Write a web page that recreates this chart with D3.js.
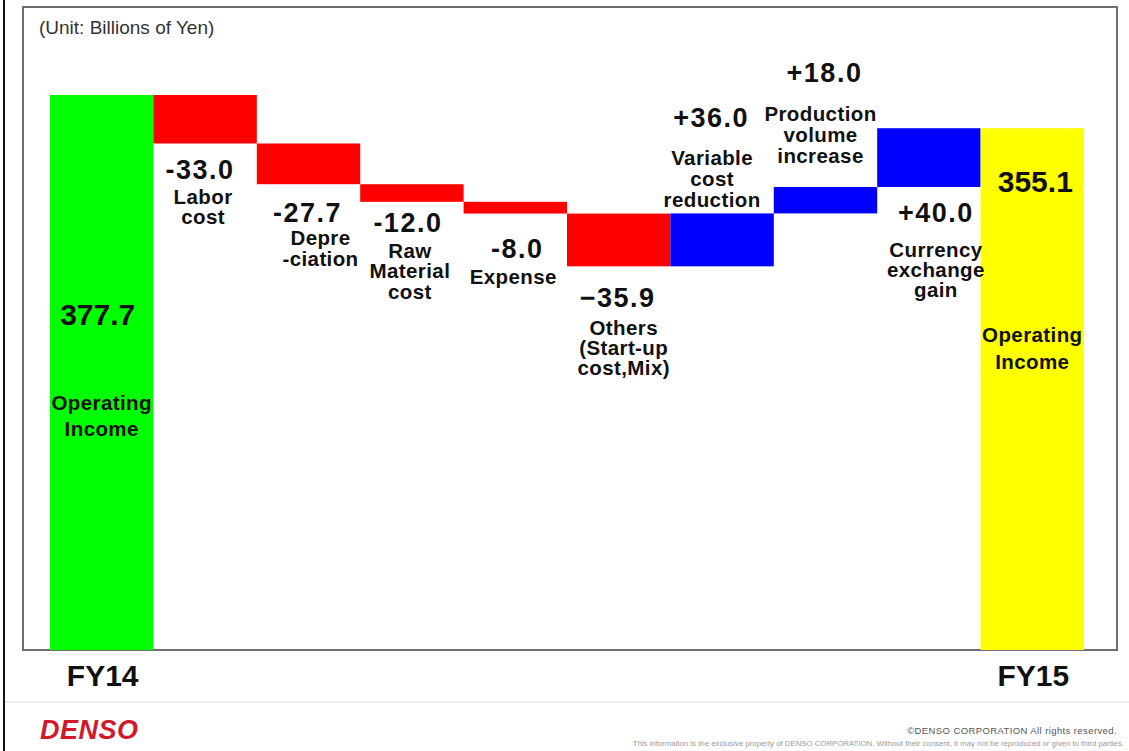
<!DOCTYPE html>
<html>
<head>
<meta charset="utf-8">
<script src="https://cdn.jsdelivr.net/npm/d3@7"></script>
<style>
  body { margin: 0; background: #fff; }
  svg { display: block; }
  text { font-family: "Liberation Sans", Arial, Helvetica, sans-serif; }
</style>
</head>
<body>
<svg id="chart" width="1129" height="751"></svg>
<script>
// Operating income bridge, FY14 -> FY15 (billions of yen)
const categories = ["FY14", "Labor cost", "Depreciation", "Raw Material cost", "Expense",
  "Others", "Variable cost reduction", "Production volume increase", "Currency exchange gain", "FY15"];
const values = [377.7, -33.0, -27.7, -12.0, -8.0, -35.9, 36.0, 18.0, 40.0, 355.1];
const isTotal = [true, false, false, false, false, false, false, false, false, true];
const valueLabels = ["377.7", "-33.0", "-27.7", "-12.0", "-8.0", "\u221235.9", "+36.0", "+18.0", "+40.0", "355.1"];
const labelLines = [
  ["Operating", "Income"],
  ["Labor", "cost"],
  ["Depre", "-ciation"],
  ["Raw", "Material", "cost"],
  ["Expense"],
  ["Others", "(Start-up", "cost,Mix)"],
  ["Variable", "cost", "reduction"],
  ["Production", "volume", "increase"],
  ["Currency", "exchange", "gain"],
  ["Operating", "Income"]
];
const periodLabels = ["FY14", "FY15"];
const unitLabel = "(Unit: Billions of Yen)";

// label placement relative to each bar (anchor edge, offsets in px)
const labelLayout = [
  { edge: "top",    dxV: -4,  dyV: 230,  dxT: 0,   dyT: 315, lh: 26 },
  { edge: "bottom", dxV: -5,  dyV: 35.5, dxT: -2,  dyT: 60.5, lh: 20 },
  { edge: "bottom", dxV: -1,  dyV: 38,   dxT: 12,  dyT: 61,  lh: 21 },
  { edge: "bottom", dxV: -4,  dyV: 30,   dxT: -2,  dyT: 56,  lh: 20.5 },
  { edge: "bottom", dxV: 2,   dyV: 44,   dxT: -2,  dyT: 70,  lh: 20 },
  { edge: "bottom", dxV: -1,  dyV: 41,   dxT: 5,   dyT: 69,  lh: 20 },
  { edge: "top",    dxV: -11, dyV: -86,  dxT: -10, dyT: -48, lh: 21 },
  { edge: "top",    dxV: -1,  dyV: -105, dxT: -5,  dyT: -66, lh: 21 },
  { edge: "bottom", dxV: 7,   dyV: 35,   dxT: 7,   dyT: 70,  lh: 20 },
  { edge: "top",    dxV: 3,   dyV: 64,   dxT: 0,   dyT: 214, lh: 27 }
];

// running totals -> bar extents
let running = 0;
const bars = categories.map((c, i) => {
  let lo, hi, kind;
  if (isTotal[i]) {
    lo = 0; hi = values[i]; running = values[i];
    kind = i === 0 ? "start" : "end";
  } else {
    const next = running + values[i];
    lo = Math.min(running, next); hi = Math.max(running, next);
    kind = values[i] < 0 ? "down" : "up";
    running = next;
  }
  return { cat: c, i, lo, hi, kind };
});

const colors = { start: "#00ff00", end: "#ffff00", down: "#ff0000", up: "#0000ff" };

const svg = d3.select("#chart");
const W = 1129, H = 751;

const x = d3.scaleBand().domain(categories).range([50, 1084]).padding(0);
const y = d3.scaleLinear().domain([0, 377.7]).range([650, 95]);

// page furniture
svg.append("rect").attr("x", 0).attr("y", 0).attr("width", W).attr("height", H).attr("fill", "#fff");
svg.append("line").attr("x1", 4).attr("x2", 4).attr("y1", 0).attr("y2", H)
  .attr("stroke", "#111").attr("stroke-width", 2);
svg.append("line").attr("x1", 5).attr("x2", W).attr("y1", 702).attr("y2", 702)
  .attr("stroke", "#e8e8e8").attr("stroke-width", 1.5);

// chart frame
svg.append("rect").attr("x", 23).attr("y", 7).attr("width", 1094).attr("height", 643)
  .attr("fill", "none").attr("stroke", "#6e6e6e").attr("stroke-width", 2);

svg.append("text").attr("x", 39).attr("y", 34)
  .attr("font-size", 19).attr("fill", "#333").text(unitLabel);

// bars
svg.append("g").selectAll("rect").data(bars).join("rect")
  .attr("x", d => x(d.cat))
  .attr("width", x.bandwidth())
  .attr("y", d => y(d.hi))
  .attr("height", d => y(d.lo) - y(d.hi))
  .attr("fill", d => colors[d.kind]);

// labels
const lg = svg.append("g").attr("fill", "#111").attr("font-weight", "bold").attr("text-anchor", "middle");
bars.forEach(d => {
  const L = labelLayout[d.i];
  const cx = x(d.cat) + x.bandwidth() / 2;
  const ay = L.edge === "top" ? y(d.hi) : y(d.lo);
  lg.append("text")
    .attr("x", cx + L.dxV).attr("y", ay + L.dyV)
    .attr("font-size", isTotal[d.i] ? 30 : 27)
    .attr("letter-spacing", isTotal[d.i] ? 0 : 1.5)
    .text(valueLabels[d.i]);
  const t = lg.append("text")
    .attr("x", cx + L.dxT).attr("y", ay + L.dyT)
    .attr("font-size", 20.5).attr("letter-spacing", 0.4);
  labelLines[d.i].forEach((line, k) => {
    t.append("tspan").attr("x", cx + L.dxT).attr("dy", k === 0 ? 0 : L.lh).text(line);
  });
});

// period labels under the total bars
const totals = bars.filter(d => isTotal[d.i]);
svg.append("g").selectAll("text").data(totals).join("text")
  .attr("x", d => x(d.cat) + x.bandwidth() / 2 + 1)
  .attr("y", 686)
  .attr("text-anchor", "middle")
  .attr("font-size", 30).attr("font-weight", "bold").attr("fill", "#111")
  .text((d, k) => periodLabels[k]);

// footer
svg.append("text").attr("x", 40).attr("y", 739)
  .attr("font-size", 27).attr("font-weight", "bold").attr("font-style", "italic")
  .attr("letter-spacing", 0.5).attr("fill", "#d2192b").text("DENSO");
svg.append("text").attr("x", 1117).attr("y", 734).attr("text-anchor", "end")
  .attr("font-size", 9.5).attr("fill", "#555").attr("letter-spacing", 0.4)
  .text("\u00a9DENSO CORPORATION  All rights reserved.");
svg.append("text").attr("x", 1124).attr("y", 746).attr("text-anchor", "end")
  .attr("font-size", 7.8).attr("fill", "#9a9a9a")
  .text("This information is the exclusive property of DENSO CORPORATION.    Without their consent, it may not be reproduced or given to third parties.");
</script>
</body>
</html>
